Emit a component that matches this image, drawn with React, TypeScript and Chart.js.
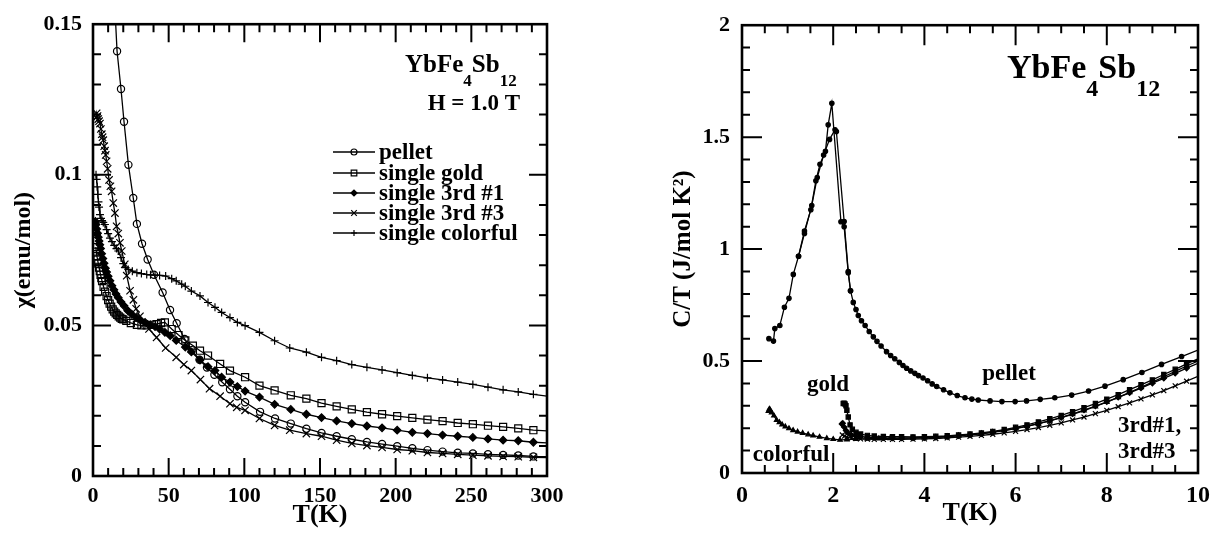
import React, { useEffect, useRef } from 'react';
import { Chart, registerables } from 'chart.js';

Chart.register(...registerables);

const SERIF = "'Liberation Serif', 'Times New Roman', serif";

// ---------------- Left panel: susceptibility chi(T) ----------------
const chiXTicks = [0, 50, 100, 150, 200, 250, 300];
const chiYTicks = [0, 0.05, 0.1, 0.15];

const pelletT = [14.2, 15.9, 18.5, 20.5, 23.4, 26.6, 29.0, 32.4, 36.1, 40.3, 46.0, 50.9, 55.3, 60.5, 65.2, 70.4, 75.3, 80.2, 85.4, 90.5, 95.4, 100.5, 110.4, 120.3, 130.7, 141, 151, 161, 171, 181, 191, 201, 211, 221, 231, 241, 251, 261, 271, 281, 291, 300];
const pelletChi = [0.158, 0.141, 0.1285, 0.1176, 0.1033, 0.0923, 0.0837, 0.0771, 0.0719, 0.0668, 0.0609, 0.0551, 0.0507, 0.0455, 0.0418, 0.0386, 0.036, 0.0336, 0.0311, 0.0288, 0.0265, 0.0245, 0.0213, 0.0191, 0.0174, 0.0157, 0.0143, 0.0132, 0.0122, 0.0113, 0.0106, 0.0099, 0.0092, 0.0086, 0.0081, 0.0077, 0.0075, 0.0072, 0.007, 0.0068, 0.0065, 0.0064];

const goldT = [1.8, 2.2, 2.6, 3.0, 3.5, 4.0, 4.5, 5.0, 5.5, 6.0, 7, 8, 9, 10, 11, 12, 13, 14, 15, 16, 17, 18, 19, 20, 22, 25, 29, 32, 35.5, 39, 42, 45, 47.5, 52, 56.5, 61, 66, 70.7, 76, 84, 90.5, 100.5, 110, 120, 130.7, 141, 151, 161, 171, 181, 191, 201, 211, 221, 231, 241, 251, 261, 271, 281, 291, 300];
const goldChi = [0.076, 0.0745, 0.073, 0.0718, 0.0705, 0.0692, 0.068, 0.0668, 0.0657, 0.0647, 0.0628, 0.0612, 0.0597, 0.0584, 0.0572, 0.0562, 0.0553, 0.0546, 0.054, 0.0535, 0.053, 0.0526, 0.0522, 0.052, 0.0515, 0.0508, 0.0502, 0.05, 0.05, 0.0502, 0.0504, 0.0508, 0.051, 0.0488, 0.0468, 0.045, 0.0433, 0.0416, 0.04, 0.0372, 0.035, 0.0328, 0.03, 0.0284, 0.0268, 0.0257, 0.0242, 0.0231, 0.0221, 0.0212, 0.0205, 0.0199, 0.0193, 0.0187, 0.0182, 0.0176, 0.0172, 0.0167, 0.0163, 0.0158, 0.0152, 0.015];

const third1T = [1.6, 2.0, 2.5, 3.0, 3.5, 4.0, 4.5, 5.0, 5.7, 6.5, 7.3, 8.2, 9.0, 10, 11.2, 12.5, 13.8, 15.2, 16.7, 18.5, 20.5, 23, 25.6, 28.5, 31.5, 34.4, 38, 41, 44, 47.5, 51, 55, 61, 65, 70.7, 76, 80.6, 85, 90.5, 95.4, 100.5, 110, 120, 130.7, 141, 151, 161, 171, 181, 191, 201, 211, 221, 231, 241, 251, 261, 271, 281, 291, 300];
const third1Chi = [0.0845, 0.0835, 0.082, 0.0806, 0.0793, 0.078, 0.0768, 0.0755, 0.0738, 0.0722, 0.0706, 0.069, 0.0677, 0.0663, 0.0648, 0.0632, 0.0618, 0.0604, 0.0592, 0.0578, 0.0565, 0.0549, 0.0537, 0.0526, 0.0517, 0.051, 0.0502, 0.0496, 0.0488, 0.0477, 0.0466, 0.045, 0.0428, 0.0412, 0.0385, 0.0363, 0.035, 0.0328, 0.0312, 0.0297, 0.0282, 0.0262, 0.0238, 0.0221, 0.0205, 0.0194, 0.0183, 0.0174, 0.0166, 0.016, 0.0152, 0.0145, 0.0141, 0.0136, 0.0132, 0.0128, 0.0123, 0.0119, 0.0117, 0.0112, 0.011];

const third3T = [2.0, 2.4, 3.0, 3.5, 4.0, 4.6, 5.2, 5.8, 6.3, 6.8, 7.4, 7.9, 8.4, 9.0, 9.7, 10.6, 11.5, 12.3, 13.4, 14.5, 15.6, 16.7, 17.8, 19.0, 21.0, 22.3, 24.5, 26.7, 28.5, 31, 34, 37, 42, 48, 55, 60, 65, 71, 77, 84, 90.5, 95, 100.5, 110, 120, 130, 141, 151, 161, 171, 181, 191, 201, 211, 221, 231, 241, 251, 261, 271, 281, 291, 300];
const third3Chi = [0.119, 0.1204, 0.1195, 0.1185, 0.1178, 0.117, 0.1152, 0.1135, 0.1125, 0.1115, 0.1095, 0.108, 0.1066, 0.1045, 0.102, 0.0983, 0.0962, 0.0945, 0.0906, 0.0873, 0.0829, 0.0805, 0.0774, 0.0747, 0.0703, 0.0665, 0.0615, 0.0585, 0.0555, 0.053, 0.0505, 0.0488, 0.046, 0.0425, 0.0394, 0.037, 0.035, 0.032, 0.029, 0.0265, 0.024, 0.0228, 0.0218, 0.0191, 0.0168, 0.0152, 0.0141, 0.0132, 0.0119, 0.0108, 0.0101, 0.0095, 0.0088, 0.0084, 0.0078, 0.0075, 0.0072, 0.0069, 0.0067, 0.0065, 0.0064, 0.0062, 0.0061];

const colorfulT = [2.0, 2.4, 2.8, 3.2, 3.6, 4.0, 4.6, 5.3, 6.0, 6.8, 7.9, 9.0, 10.0, 11.2, 12.5, 14.0, 15.5, 16.7, 18.5, 20.0, 21.5, 23.3, 26, 29, 32, 35.5, 38, 41, 44, 48, 52, 55, 58.6, 61, 65, 70.7, 76, 80.6, 85, 90.5, 95.4, 100.5, 110, 120, 130, 141, 151, 161, 171, 181, 191, 201, 211, 221, 231, 241, 251, 261, 271, 281, 291, 300];
const colorfulChi = [0.1, 0.0985, 0.096, 0.0935, 0.091, 0.0893, 0.0868, 0.0855, 0.0848, 0.0842, 0.0835, 0.0818, 0.0805, 0.079, 0.0778, 0.0766, 0.0755, 0.0747, 0.0725, 0.0705, 0.0692, 0.0686, 0.068, 0.0675, 0.0672, 0.0669, 0.0668, 0.0667, 0.0666, 0.0664, 0.0655, 0.0648, 0.0637, 0.063, 0.0614, 0.0598, 0.0576, 0.056, 0.0543, 0.0526, 0.051, 0.0499, 0.0477, 0.0449, 0.0425, 0.0411, 0.0394, 0.0383, 0.037, 0.0361, 0.0352, 0.0343, 0.0334, 0.0326, 0.0319, 0.0312, 0.0304, 0.0295, 0.0286, 0.0279, 0.0271, 0.0265];

const chiLegend = ['pellet', 'single gold', 'single 3rd #1', 'single 3rd #3', 'single colorful'];

// ---------------- Right panel: C/T vs T ----------------
const ctXTicks = [0, 2, 4, 6, 8, 10];
const ctYTicks = [0, 0.5, 1, 1.5, 2];

const cPelletAT = [0.59, 0.69, 0.72, 0.83, 0.93, 1.03, 1.125, 1.24, 1.37, 1.51, 1.62, 1.71, 1.83, 1.89, 1.97, 2.17, 2.24, 2.33, 2.38, 2.44, 2.5, 2.55, 2.62, 2.7, 2.79, 2.88, 2.96, 3.05, 3.17, 3.26, 3.35, 3.45, 3.53, 3.61, 3.7, 3.79, 3.87, 3.97, 4.07, 4.17, 4.27, 4.42, 4.56, 4.72, 4.89, 5.04, 5.18, 5.44, 5.7, 5.99, 6.24, 6.54, 6.86, 7.23, 7.6, 7.96, 8.36, 8.77, 9.2, 9.64, 10.0];
const cPelletAV = [0.6, 0.589, 0.645, 0.659, 0.74, 0.78, 0.887, 0.968, 1.081, 1.176, 1.305, 1.379, 1.437, 1.555, 1.651, 1.122, 1.1, 0.894, 0.814, 0.762, 0.73, 0.703, 0.68, 0.659, 0.632, 0.608, 0.588, 0.567, 0.542, 0.525, 0.51, 0.494, 0.48, 0.468, 0.456, 0.445, 0.435, 0.424, 0.412, 0.398, 0.386, 0.372, 0.358, 0.346, 0.336, 0.33, 0.326, 0.322, 0.319, 0.319, 0.322, 0.329, 0.336, 0.348, 0.366, 0.388, 0.417, 0.449, 0.485, 0.52, 0.549];

const cPelletBT = [1.24, 1.37, 1.53, 1.65, 1.79, 1.92, 2.04, 2.07, 2.24, 2.33, 2.38];
const cPelletBV = [0.968, 1.07, 1.195, 1.32, 1.42, 1.49, 1.533, 1.525, 1.123, 0.9, 0.814];

const cGoldT = [2.22, 2.24, 2.26, 2.28, 2.3, 2.33, 2.37, 2.42, 2.5, 2.6, 2.75, 2.9, 3.1, 3.3, 3.5, 3.75, 4.0, 4.25, 4.5, 4.75, 5.0, 5.25, 5.5, 5.75, 6.0, 6.25, 6.5, 6.75, 7.0, 7.25, 7.5, 7.75, 8.0, 8.25, 8.5, 8.75, 9.0, 9.25, 9.5, 9.75, 10.0];
const cGoldV = [0.31, 0.312, 0.308, 0.3, 0.28, 0.25, 0.215, 0.195, 0.182, 0.174, 0.168, 0.165, 0.163, 0.162, 0.162, 0.161, 0.162, 0.164, 0.166, 0.17, 0.174, 0.179, 0.186, 0.194, 0.204, 0.215, 0.228, 0.242, 0.257, 0.274, 0.292, 0.31, 0.33, 0.35, 0.372, 0.394, 0.416, 0.44, 0.463, 0.487, 0.51];

const c3rd1T = [2.19, 2.21, 2.24, 2.28, 2.33, 2.4, 2.5, 2.6, 2.75, 2.9, 3.1, 3.3, 3.5, 3.75, 4.0, 4.25, 4.5, 4.75, 5.0, 5.25, 5.5, 5.75, 6.0, 6.25, 6.5, 6.75, 7.0, 7.25, 7.5, 7.75, 8.0, 8.25, 8.5, 8.75, 9.0, 9.25, 9.5, 9.75, 10.0];
const c3rd1V = [0.219, 0.222, 0.205, 0.19, 0.178, 0.17, 0.165, 0.162, 0.16, 0.158, 0.157, 0.156, 0.156, 0.156, 0.157, 0.159, 0.162, 0.166, 0.17, 0.175, 0.181, 0.189, 0.198, 0.208, 0.22, 0.233, 0.248, 0.264, 0.281, 0.299, 0.318, 0.338, 0.358, 0.379, 0.401, 0.423, 0.445, 0.468, 0.49];

const c3rd3T = [2.2, 2.25, 2.3, 2.4, 2.5, 2.6, 2.75, 2.9, 3.1, 3.3, 3.5, 3.75, 4.0, 4.25, 4.5, 4.75, 5.0, 5.25, 5.5, 5.75, 6.0, 6.25, 6.5, 6.75, 7.0, 7.25, 7.5, 7.75, 8.0, 8.25, 8.5, 8.75, 9.0, 9.25, 9.5, 9.75, 10.0];
const c3rd3V = [0.17, 0.165, 0.16, 0.156, 0.154, 0.152, 0.151, 0.15, 0.15, 0.15, 0.15, 0.151, 0.152, 0.154, 0.157, 0.16, 0.164, 0.168, 0.173, 0.179, 0.186, 0.194, 0.203, 0.213, 0.224, 0.237, 0.25, 0.265, 0.28, 0.296, 0.313, 0.331, 0.349, 0.368, 0.389, 0.41, 0.432];

const cColorfulT = [0.58, 0.6, 0.62, 0.65, 0.7, 0.76, 0.82, 0.88, 0.95, 1.03, 1.12, 1.22, 1.33, 1.45, 1.56, 1.7, 1.86, 2.0, 2.15, 2.3, 2.5, 2.75, 3.0, 3.25, 3.5, 3.75, 4.0, 4.25, 4.5, 4.75, 5.0, 5.25, 5.5, 5.75, 6.0, 6.25, 6.5, 6.75, 7.0, 7.25, 7.5, 7.75, 8.0, 8.25, 8.5, 8.75, 9.0, 9.25, 9.5, 9.75, 10.0];
const cColorfulV = [0.277, 0.286, 0.281, 0.27, 0.256, 0.236, 0.226, 0.216, 0.207, 0.199, 0.191, 0.184, 0.178, 0.172, 0.167, 0.161, 0.155, 0.151, 0.148, 0.149, 0.151, 0.153, 0.154, 0.155, 0.156, 0.157, 0.158, 0.16, 0.163, 0.167, 0.171, 0.176, 0.183, 0.19, 0.199, 0.209, 0.22, 0.233, 0.247, 0.262, 0.279, 0.297, 0.317, 0.338, 0.36, 0.383, 0.406, 0.43, 0.454, 0.478, 0.5];

// ---------------- helpers ----------------
const zip = (xs: number[], ys: number[]) => xs.map((x, i) => ({ x, y: ys[i] }));
const fmt = (v: number) => String(+Number(v).toFixed(4));

function series(label: string, xs: number[], ys: number[], style: string, r: number, filled: boolean, edge: number) {
  return {
    label,
    data: zip(xs, ys),
    borderColor: '#000',
    borderWidth: 1.3,
    backgroundColor: filled ? '#000' : 'rgba(0,0,0,0)',
    pointStyle: style,
    pointRadius: (c: any) => (c.raw && c.raw.x >= edge ? 0 : r),
    pointHoverRadius: 0,
    pointBorderWidth: 1.2,
    pointBorderColor: '#000',
    pointBackgroundColor: filled ? '#000' : 'rgba(0,0,0,0)',
    tension: 0,
    fill: false,
  };
}

function drawMarker(ctx: CanvasRenderingContext2D, style: string, x: number, y: number, r: number, filled: boolean) {
  ctx.beginPath();
  if (style === 'circle') ctx.arc(x, y, r, 0, Math.PI * 2);
  else if (style === 'rect') ctx.rect(x - r, y - r, 2 * r, 2 * r);
  else if (style === 'rectRot') { ctx.moveTo(x - r, y); ctx.lineTo(x, y - r); ctx.lineTo(x + r, y); ctx.lineTo(x, y + r); ctx.closePath(); }
  else if (style === 'crossRot') { ctx.moveTo(x - r, y - r); ctx.lineTo(x + r, y + r); ctx.moveTo(x - r, y + r); ctx.lineTo(x + r, y - r); }
  else if (style === 'cross') { ctx.moveTo(x - r, y); ctx.lineTo(x + r, y); ctx.moveTo(x, y - r); ctx.lineTo(x, y + r); }
  if (filled) ctx.fill();
  ctx.stroke();
}

function drawFrame(chart: any, xMinor: number, xRatio: number, yMinor: number, yRatio: number, majorLen: number, minorLen: number) {
  const { ctx, chartArea: a } = chart;
  const xs = chart.scales.x, ys = chart.scales.y;
  ctx.save();
  ctx.strokeStyle = '#000';
  ctx.lineWidth = 2;
  ctx.beginPath();
  const nx = Math.round((xs.max - xs.min) / xMinor);
  for (let i = 1; i < nx; i++) {
    const p = xs.getPixelForValue(xs.min + i * xMinor);
    const L = i % xRatio === 0 ? majorLen : minorLen;
    ctx.moveTo(p, a.bottom); ctx.lineTo(p, a.bottom - L);
    ctx.moveTo(p, a.top); ctx.lineTo(p, a.top + L);
  }
  const ny = Math.round((ys.max - ys.min) / yMinor);
  for (let i = 1; i < ny; i++) {
    const p = ys.getPixelForValue(ys.min + i * yMinor);
    const L = i % yRatio === 0 ? majorLen : minorLen;
    ctx.moveTo(a.left, p); ctx.lineTo(a.left + L, p);
    ctx.moveTo(a.right, p); ctx.lineTo(a.right - L, p);
  }
  ctx.stroke();
  ctx.lineWidth = 2.6;
  ctx.strokeRect(a.left, a.top, a.right - a.left, a.bottom - a.top);
  ctx.restore();
}

function drawRich(ctx: CanvasRenderingContext2D, parts: { t: string; size: number; dy: number }[], x: number, y: number) {
  let cx = x;
  ctx.textAlign = 'left';
  ctx.textBaseline = 'alphabetic';
  for (const p of parts) {
    ctx.font = `bold ${p.size}px ${SERIF}`;
    ctx.fillText(p.t, cx, y + p.dy);
    cx += ctx.measureText(p.t).width;
  }
}

const font = (size: number) => ({ family: SERIF, size, weight: 'bold' as const });

function baseOptions(xTicks: number[], yTicks: number[], pad: any, xH: number, yW: number, xTitle: string, yTitle: string, xTickSize: number, yTickSize: number, xTickPad: number, yTickPad: number, xTitleSize: number, yTitleSize: number, xTitlePad: number, yTitlePad: number) {
  return {
    responsive: false,
    animation: false,
    devicePixelRatio: 1,
    events: [],
    layout: { padding: pad },
    plugins: { legend: { display: false }, tooltip: { enabled: false } },
    scales: {
      x: {
        type: 'linear',
        min: xTicks[0],
        max: xTicks[xTicks.length - 1],
        afterFit: (s: any) => { s.height = xH; },
        afterBuildTicks: (s: any) => { s.ticks = xTicks.map((v) => ({ value: v })); },
        ticks: { color: '#000', font: font(xTickSize), padding: xTickPad, maxRotation: 0, autoSkip: false, callback: (v: any) => fmt(v) },
        grid: { display: false, drawTicks: false },
        border: { display: false },
        title: { display: true, text: xTitle, color: '#000', font: font(xTitleSize), padding: { top: 0, bottom: xTitlePad } },
      },
      y: {
        type: 'linear',
        min: yTicks[0],
        max: yTicks[yTicks.length - 1],
        afterFit: (s: any) => { s.width = yW; },
        afterBuildTicks: (s: any) => { s.ticks = yTicks.map((v) => ({ value: v })); },
        ticks: { color: '#000', font: font(yTickSize), padding: yTickPad, autoSkip: false, callback: (v: any) => fmt(v) },
        grid: { display: false, drawTicks: false },
        border: { display: false },
        title: { display: true, text: yTitle, color: '#000', font: font(yTitleSize), padding: { top: yTitlePad, bottom: 0 } },
      },
    },
  };
}

const leftStyles = [
  { style: 'circle', r: 3.6, filled: false },
  { style: 'rect', r: 5, filled: false },
  { style: 'rectRot', r: 3.8, filled: true },
  { style: 'crossRot', r: 5.2, filled: false },
  { style: 'cross', r: 4, filled: false },
];

function makeLeft(canvas: HTMLCanvasElement) {
  const s = leftStyles;
  const datasets = [
    series(chiLegend[0], pelletT, pelletChi, s[0].style, s[0].r, s[0].filled, 300),
    series(chiLegend[1], goldT, goldChi, s[1].style, s[1].r, s[1].filled, 300),
    series(chiLegend[2], third1T, third1Chi, s[2].style, s[2].r, s[2].filled, 300),
    series(chiLegend[3], third3T, third3Chi, s[3].style, s[3].r, s[3].filled, 300),
    series(chiLegend[4], colorfulT, colorfulChi, s[4].style, s[4].r, s[4].filled, 300),
  ];
  const plugin = {
    id: 'leftDecor',
    afterDatasetsDraw(chart: any) {
      drawFrame(chart, 10, 5, 0.01, 5, 18, 8);
      const ctx: CanvasRenderingContext2D = chart.ctx;
      ctx.save();
      ctx.fillStyle = '#000';
      ctx.strokeStyle = '#000';
      drawRich(ctx, [
        { t: 'YbFe', size: 25, dy: 0 },
        { t: '4', size: 17, dy: 14 },
        { t: 'Sb', size: 25, dy: 0 },
        { t: '12', size: 17, dy: 14 },
      ], 405, 72);
      ctx.font = `bold 23px ${SERIF}`;
      ctx.textAlign = 'right';
      ctx.fillText('H = 1.0 T', 520, 110);
      const rows = [152, 173, 193, 213, 233];
      chiLegend.forEach((lab, i) => {
        const y = rows[i];
        ctx.lineWidth = 1.3;
        ctx.beginPath(); ctx.moveTo(333, y); ctx.lineTo(375, y); ctx.stroke();
        ctx.lineWidth = 1.2;
        drawMarker(ctx, s[i].style, 354, y, s[i].style === 'rect' ? 2.8 : s[i].style === 'crossRot' ? 2.8 : 3, s[i].filled);
        ctx.font = `bold 23px ${SERIF}`;
        ctx.textAlign = 'left';
        ctx.textBaseline = 'middle';
        ctx.fillText(lab, 379, y + 1);
      });
      ctx.restore();
    },
  };
  return new Chart(canvas, {
    type: 'line',
    data: { datasets: datasets as any },
    options: baseOptions(chiXTicks, chiYTicks, { left: 0, right: 53, top: 22, bottom: 0 }, 60, 93, 'T(K)', 'χ(emu/mol)', 22, 22, 7, 11, 26, 24, 5, 9) as any,
    plugins: [plugin],
  });
}

function makeRight(canvas: HTMLCanvasElement) {
  const datasets = [
    series('pellet', cPelletAT, cPelletAV, 'circle', 2.2, true, 10),
    series('pellet (run 2)', cPelletBT, cPelletBV, 'circle', 2.2, true, 10),
    series('gold', cGoldT, cGoldV, 'rect', 3, true, 10),
    series('3rd#1', c3rd1T, c3rd1V, 'rectRot', 2.6, true, 10),
    series('3rd#3', c3rd3T, c3rd3V, 'crossRot', 3.5, false, 10),
    series('colorful', cColorfulT, cColorfulV, 'triangle', 2.6, true, 10),
  ];
  const plugin = {
    id: 'rightDecor',
    afterDatasetsDraw(chart: any) {
      drawFrame(chart, 0.5, 4, 0.1, 5, 20, 8);
      const ctx: CanvasRenderingContext2D = chart.ctx;
      ctx.save();
      ctx.fillStyle = '#000';
      drawRich(ctx, [
        { t: 'YbFe', size: 34, dy: 0 },
        { t: '4', size: 24, dy: 18 },
        { t: 'Sb', size: 34, dy: 0 },
        { t: '12', size: 24, dy: 18 },
      ], 387, 78);
      ctx.font = `bold 23px ${SERIF}`;
      ctx.textBaseline = 'alphabetic';
      ctx.textAlign = 'center';
      ctx.fillText('gold', 208, 391);
      ctx.fillText('colorful', 171, 461);
      ctx.fillText('pellet', 389, 380);
      ctx.textAlign = 'left';
      ctx.fillText('3rd#1,', 498, 432);
      ctx.fillText('3rd#3', 498, 458);
      ctx.restore();
    },
  };
  return new Chart(canvas, {
    type: 'line',
    data: { datasets: datasets as any },
    options: baseOptions(ctXTicks, ctYTicks, { left: 0, right: 22, top: 19, bottom: 0 }, 63, 122, 'T(K)', 'C/T (J/mol K²)', 24, 22, 8, 12, 26, 25, 7, 49) as any,
    plugins: [plugin],
  });
}

export default function App() {
  const leftRef = useRef<HTMLCanvasElement>(null);
  const rightRef = useRef<HTMLCanvasElement>(null);
  useEffect(() => {
    const a = makeLeft(leftRef.current as HTMLCanvasElement);
    const b = makeRight(rightRef.current as HTMLCanvasElement);
    return () => { a.destroy(); b.destroy(); };
  }, []);
  return (
    <div style={{ position: 'fixed', left: 0, top: 0, width: 1220, height: 536, background: '#fff' }}>
      <canvas ref={leftRef} width={600} height={536} style={{ position: 'absolute', left: 0, top: 0 }} />
      <canvas ref={rightRef} width={600} height={536} style={{ position: 'absolute', left: 620, top: 0 }} />
    </div>
  );
}
